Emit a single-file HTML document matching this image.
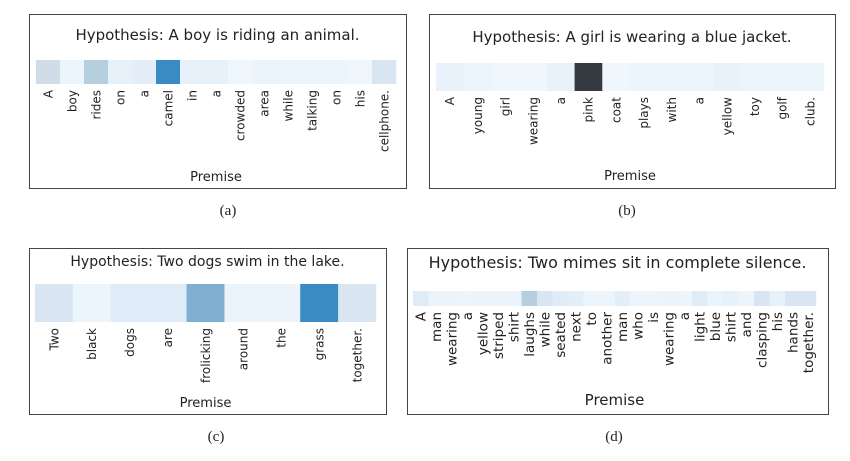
<!DOCTYPE html>
<html><head><meta charset="utf-8">
<style>
html,body{margin:0;padding:0;background:#fff;}
svg{display:block;}
</style></head>
<body>
<svg id="fig" width="850" height="461" viewBox="0 0 850 461" xmlns="http://www.w3.org/2000/svg" font-family="DejaVu Sans, Liberation Sans, sans-serif"></svg>
<script>
const wordsA = ["A","boy","rides","on","a","camel","in","a","crowded","area","while","talking","on","his","cellphone."];
const valuesA = [0.2,0.05,0.3,0.08,0.1,0.68,0.08,0.08,0.04,0.06,0.05,0.05,0.05,0.04,0.15];
const wordsB = ["A","young","girl","wearing","a","pink","coat","plays","with","a","yellow","toy","golf","club."];
const valuesB = [0.07,0.05,0.04,0.04,0.07,1.0,0.04,0.05,0.05,0.05,0.07,0.05,0.05,0.05];
const wordsC = ["Two","black","dogs","are","frolicking","around","the","grass","together."];
const valuesC = [0.15,0.05,0.12,0.12,0.45,0.06,0.06,0.68,0.15];
const wordsD = ["A","man","wearing","a","yellow","striped","shirt","laughs","while","seated","next","to","another","man","who","is","wearing","a","light","blue","shirt","and","clasping","his","hands","together."];
const valuesD = [0.12,0.06,0.06,0.05,0.06,0.06,0.06,0.3,0.15,0.12,0.1,0.05,0.05,0.1,0.05,0.05,0.06,0.05,0.12,0.06,0.08,0.05,0.15,0.08,0.15,0.15];

const NS = "http://www.w3.org/2000/svg";
const svg = document.getElementById("fig");
const blues = ["#f7fbff","#deebf7","#c6d2de","#9ecae1","#6b9ec6","#4292c6","#2f7fc1","#1f4f7c","#343a40"];
function hex(c){return [1,3,5].map(i=>parseInt(c.substr(i,2),16));}
function colorScale(v){
  v=Math.max(0,Math.min(1,v));
  const p=v*(blues.length-1), i=Math.min(Math.floor(p),blues.length-2), t=p-i;
  const a=hex(blues[i]), b=hex(blues[i+1]);
  return "rgb("+a.map((x,k)=>Math.round(x+(b[k]-x)*t)).join(",")+")";
}
function mk(tag, attrs, parent){
  const e=document.createElementNS(NS,tag);
  for(const k in attrs) e.setAttribute(k,attrs[k]);
  parent.appendChild(e); return e;
}
const panels = [
  {id:"a", words:wordsA, values:valuesA, title:"Hypothesis: A boy is riding an animal.", box:[29,14,377,174], hm:[36,60,396,84], titleY:40, fs:12, tfs:15, premY:181, cap:"(a)", capX:228, capY:215},
  {id:"b", words:wordsB, values:valuesB, title:"Hypothesis: A girl is wearing a blue jacket.", box:[429,14,406,174], hm:[436,63,824,91], titleY:42, fs:12, tfs:15, premY:180, cap:"(b)", capX:627, capY:215},
  {id:"c", words:wordsC, values:valuesC, title:"Hypothesis: Two dogs swim in the lake.", box:[29,248,357,166], hm:[35,284,376,322], titleY:266, fs:12, tfs:14, premY:407, cap:"(c)", capX:216, capY:441},
  {id:"d", words:wordsD, values:valuesD, title:"Hypothesis: Two mimes sit in complete silence.", box:[407,248,421,166], hm:[413,291,816,306], titleY:268, fs:13.5, tfs:16, premY:405, cap:"(d)", capX:614, capY:441}
];
panels.forEach(p=>{
  const g=mk("g",{},svg);
  
  
  const box=mk("rect",{x:p.box[0]+0.5,y:p.box[1]+0.5,width:p.box[2],height:p.box[3],fill:"#fff",stroke:"#444","stroke-width":1},g);
  
  
  const cx=p.box[0]+p.box[2]/2;
  const t=mk("text",{x:cx,y:p.titleY,"text-anchor":"middle","font-size":p.tfs,fill:"#222"},g);
  t.textContent=p.title;
  
  
  const n=p.words.length, x0=p.hm[0], w=(p.hm[2]-p.hm[0])/n;
  p.words.forEach((wd,i)=>{
    const r=mk("rect",{x:x0+i*w,y:p.hm[1],width:w+0.3,height:p.hm[3]-p.hm[1],fill:colorScale(p.values[i])},g);
    
    
    const lx=x0+(i+0.5)*w+p.fs*0.36, ly=p.hm[3]+6;
    const l=mk("text",{x:lx,y:ly,"text-anchor":"end","font-size":p.fs,fill:"#222",transform:"rotate(-90 "+lx+" "+ly+")"},g);
    l.textContent=wd;
    
    
  });
  const pr=mk("text",{x:(p.hm[0]+p.hm[2])/2,y:p.premY,"text-anchor":"middle","font-size":p.id==="d"?15:13,fill:"#222"},g);
  pr.textContent="Premise";
  
  
  const c=mk("text",{x:p.capX,y:p.capY,"text-anchor":"middle","font-size":15,fill:"#222","font-family":"Liberation Serif, serif"},svg);
  c.textContent=p.cap;
  
  
});
</script>
</body></html>
